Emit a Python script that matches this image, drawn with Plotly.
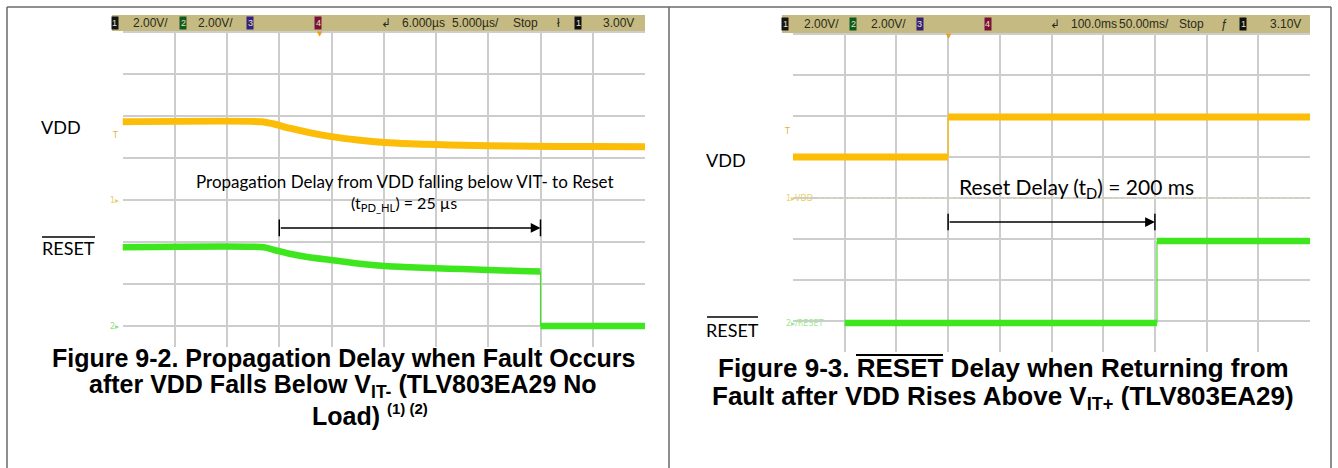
import plotly.graph_objects as go

W, H = 1338, 468

# ---- left capture: 5 us/div, 2 V/div, VDD falling ----
t_vdd_fall = [-19, -5.7, -4.5, -3.0, -1.0, 1.0, 3.5, 6.1, 8.5, 11.0, 13.5, 16.0, 20.0, 25.0, 31.0]
v_vdd_fall = [3.73, 3.73, 3.62, 3.42, 3.20, 3.02, 2.86, 2.74, 2.68, 2.64, 2.61, 2.59, 2.56, 2.55, 2.54]
t_rst_fall = [-19, -5.5, -4.5, -3.0, -1.0, 1.0, 3.5, 6.1, 8.5, 11.0, 13.5, 16.0, 19.0, 21.0]
v_rst_fall = [3.75, 3.75, 3.62, 3.44, 3.26, 3.14, 2.98, 2.86, 2.80, 2.75, 2.71, 2.67, 2.62, 2.59]
t_rst_edge = [21.0, 21.0]
v_rst_edge = [2.59, 0.0]
t_rst_low = [21.0, 31.0]
v_rst_low = [0.0, 0.0]
t_pd_start, t_pd_end = -4.0, 21.0

# ---- right capture: 50 ms/div, 2 V/div, VDD rising ----
t_vdd_low = [-150, 0]
v_vdd_low = [2.0, 2.0]
t_vdd_edge = [0, 0]
v_vdd_edge = [2.0, 3.95]
t_vdd_high = [0, 350]
v_vdd_high = [3.95, 3.95]
t_rst_low2 = [-100, 202]
v_rst_low2 = [0.0, 0.0]
t_rst_edge2 = [202, 202]
v_rst_edge2 = [0.0, 4.0]
t_rst_high2 = [202, 350]
v_rst_high2 = [4.0, 4.0]
t_d_start, t_d_end = 0, 200

YEL = "#fbbd08"
GRN = "#3ee61e"
GRID = "#cdcdcd"


def P(x):
    return x / W


def Q(y):
    return 1 - y / H


fig = go.Figure()


def line(x, y, color, width, xa, ya):
    fig.add_trace(go.Scatter(x=x, y=y, mode="lines", xaxis=xa, yaxis=ya,
                             line=dict(color=color, width=width, shape="spline", smoothing=0.6),
                             hoverinfo="skip", showlegend=False))


# left traces
line(t_vdd_fall, v_vdd_fall, YEL, 7, "x", "y")
line(t_rst_fall, v_rst_fall, GRN, 6.5, "x", "y2")
line(t_rst_edge, v_rst_edge, GRN, 1.2, "x", "y2")
line(t_rst_low, v_rst_low, GRN, 6.5, "x", "y2")
# right traces
line(t_vdd_low, v_vdd_low, YEL, 7, "x2", "y3")
line(t_vdd_edge, v_vdd_edge, YEL, 1.2, "x2", "y3")
line(t_vdd_high, v_vdd_high, YEL, 7, "x2", "y3")
line(t_rst_low2, v_rst_low2, GRN, 6.5, "x2", "y4")
line(t_rst_edge2, v_rst_edge2, GRN, 1.2, "x2", "y4")
line(t_rst_high2, v_rst_high2, GRN, 6.5, "x2", "y4")

xgrid = dict(showgrid=True, gridcolor=GRID, gridwidth=1.5, showticklabels=False,
             zeroline=False, showline=False, ticks="", fixedrange=True)
hidden = dict(showgrid=False, showticklabels=False, zeroline=False, showline=False, ticks="")

# left graticule: top 31 px, centre 200 px, 21 px per volt, bottom 347 px
fig.update_layout(
    width=W, height=H, margin=dict(l=0, r=0, t=0, b=0), autosize=False,
    paper_bgcolor="white", plot_bgcolor="white",
    xaxis=dict(domain=[P(122.5), P(645)], range=[-19, 31], tick0=-19, dtick=5, anchor="y", **xgrid),
    yaxis=dict(domain=[Q(347), Q(31)], range=[-7.0, 8.05], tick0=0, dtick=2, anchor="x", **xgrid),
    yaxis2=dict(domain=[Q(347), Q(31)], range=[-1.0, 14.05], overlaying="y", anchor="x", **hidden),
    xaxis2=dict(domain=[P(793), P(1310)], range=[-150, 350], tick0=-150, dtick=50, anchor="y3", **xgrid),
    yaxis3=dict(domain=[Q(352), Q(33)], range=[-7.51, 8.05], tick0=0, dtick=2, anchor="x2", **xgrid),
    yaxis4=dict(domain=[Q(352), Q(33)], range=[-1.41, 14.15], overlaying="y3", anchor="x2", **hidden),
)

shapes = []
ann = []


def text(x, y, s, size, color="black", family="Lato", anchor="center", **kw):
    ann.append(dict(x=P(x), y=Q(y), xref="paper", yref="paper", text=s, showarrow=False,
                    xanchor=anchor, yanchor="middle",
                    font=dict(size=size, color=color, family=family), **kw))


def rect(x0, y0, x1, y1, fill):
    shapes.append(dict(type="rect", xref="paper", yref="paper", x0=P(x0), x1=P(x1), y0=Q(y1), y1=Q(y0),
                       fillcolor=fill, line=dict(width=0), layer="above"))


def seg(x0, y0, x1, y1, color, width=1.5, dash="solid"):
    shapes.append(dict(type="line", xref="paper", yref="paper", x0=P(x0), x1=P(x1), y0=Q(y0), y1=Q(y1),
                       line=dict(color=color, width=width, dash=dash), layer="above"))


# outer frame
seg(7, 7, 1331, 7, "#6a6a6a", 1.5)
seg(7, 7, 7, 470, "#6a6a6a", 1.5)
seg(669, 7, 669, 470, "#6a6a6a", 1.5)
seg(1331, 7, 1331, 470, "#6a6a6a", 1.5)

HDR = "#c5ba82"
HFONT = "Liberation Sans, Arial, sans-serif"


def header(x0, x1, y0, y1, items):
    rect(x0, y0, x1, y1, HDR)
    yc = (y0 + y1) / 2
    for kind, x, s, c in items:
        if kind == "box":
            rect(x - 3.5, yc - 6.5, x + 3.5, yc + 6.5, c)
            text(x, yc, s, 9, "#e8e0c0", HFONT)
        else:
            text(x, yc, s, 12, "#2a2a1a", HFONT, anchor="left")


header(112, 645, 15, 31, [
    ("box", 115, "1", "#141414"), ("t", 131, "2.00V/", None),
    ("box", 183, "2", "#0f5a1e"), ("t", 196, "2.00V/", None),
    ("box", 250, "3", "#35207a"),
    ("box", 318, "4", "#7a1038"),
    ("t", 379, "\u21b2", None),
    ("t", 400, "6.000\u00b5s", None), ("t", 450, "5.000\u00b5s/", None),
    ("t", 511, "Stop", None), ("t", 555, "\u0142", None),
    ("box", 578, "1", "#111111"), ("t", 601, "3.00V", None),
])
header(782, 1310, 15, 33, [
    ("box", 785, "1", "#141414"), ("t", 802, "2.00V/", None),
    ("box", 853, "2", "#0f5a1e"), ("t", 869, "2.00V/", None),
    ("box", 920, "3", "#35207a"),
    ("box", 988, "4", "#7a1038"),
    ("t", 1048, "\u21b2", None),
    ("t", 1069, "100.0ms", None), ("t", 1117, "50.00ms/", None),
    ("t", 1177, "Stop", None), ("t", 1219, "\u0192", None),
    ("box", 1243, "1", "#111111"), ("t", 1268, "3.10V", None),
])

# time reference markers
text(320, 34, "\u25bc", 7, "#e8a020", "DejaVu Sans")
text(949, 36, "\u25bc", 7, "#e8a020", "DejaVu Sans")

# channel markers at the left of the graticule
text(115, 135, "T", 8, "#e0b040", "DejaVu Sans")
text(115, 200, "1\u25b8", 8, "#e8d070", "DejaVu Sans")
text(115, 326, "2\u25b8", 8, "#90e080", "DejaVu Sans")
text(787, 131, "T", 8, "#e0b040", "DejaVu Sans")
text(784, 198, "1\u25b8VDD", 8, "#e8d070", "DejaVu Sans", anchor="left")
text(784, 323, "2\u25b8/RESET", 8, "#a0e890", "DejaVu Sans", anchor="left")
seg(818, 198, 1310, 198, "#e8e0b0", 1, "dot")

# signal labels
text(61, 127, "VDD", 18)
text(68, 248, "RESET", 18)
seg(42, 237, 95, 237, "black", 1.5)
text(726, 160, "VDD", 18)
text(732, 330, "RESET", 18)
seg(707, 317, 758, 317, "black", 1.5)

# measurement arrows (data coordinates)
y_pd = -1.33
ann.append(dict(x=t_pd_end, y=y_pd, ax=t_pd_start, ay=y_pd, xref="x", yref="y", axref="x", ayref="y",
                showarrow=True, arrowhead=2, arrowsize=1.3, arrowwidth=1.5, arrowcolor="black",
                standoff=0, startstandoff=0, text=""))
for t in (t_pd_start, t_pd_end):
    shapes.append(dict(type="line", xref="x", yref="y", x0=t, x1=t, y0=y_pd - 0.4, y1=y_pd + 0.4,
                       line=dict(color="black", width=1.5)))
y_d = -1.17
ann.append(dict(x=t_d_end, y=y_d, ax=t_d_start, ay=y_d, xref="x2", yref="y3", axref="x2", ayref="y3",
                showarrow=True, arrowhead=2, arrowsize=1.3, arrowwidth=1.5, arrowcolor="black",
                standoff=0, startstandoff=0, text=""))
for t in (t_d_start, t_d_end):
    shapes.append(dict(type="line", xref="x2", yref="y3", x0=t, x1=t, y0=y_d - 0.4, y1=y_d + 0.4,
                       line=dict(color="black", width=1.5)))

text(405, 182, "Propagation Delay from VDD falling below VIT- to Reset", 17)
text(404, 203, "(t<sub>PD_HL</sub>) = 25 \u00b5s", 16)
text(1076, 188, "Reset Delay (t<sub>D</sub>) = 200 ms", 21)

# captions
CAP = "Liberation Sans, Arial, sans-serif"
text(343, 358, "<b>Figure 9-2. Propagation Delay when Fault Occurs</b>", 25, family=CAP)
text(343, 386, "<b>after VDD Falls Below V<sub>IT-</sub> (TLV803EA29 No</b>", 25, family=CAP)
text(370, 415, "<b>Load) <sup><span style='font-size:15px'>(1) (2)</span></sup></b>", 25, family=CAP)
text(1003, 368, "<b>Figure 9-3. RESET Delay when Returning from</b>", 26, family=CAP)
seg(856, 355, 943, 355, "black", 2)
text(1003, 397, "<b>Fault after VDD Rises Above V<sub>IT+</sub> (TLV803EA29)</b>", 26, family=CAP)

fig.update_layout(shapes=shapes, annotations=ann)
fig.write_html("out.html", config={"displayModeBar": False},
               post_script="document.body.style.margin='0px';")
